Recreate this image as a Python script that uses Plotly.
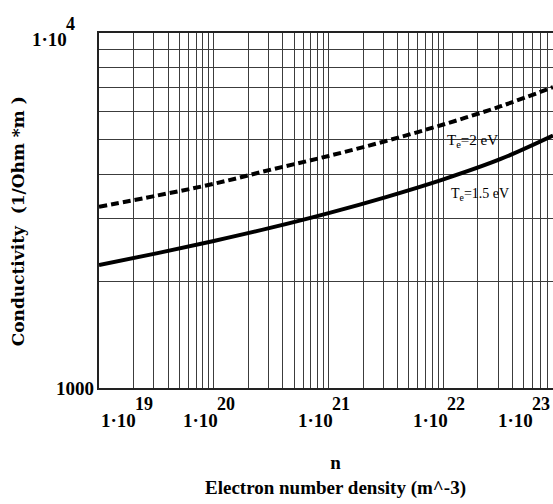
import numpy as np
import plotly.graph_objects as go

# Data (log-log)
n_density = [1e19, 10**19.5, 1e20, 10**20.5, 1e21, 10**21.5, 1e22, 10**22.5, 10**22.955]
sigma_te15 = [2219, 2394, 2595, 2829, 3109, 3450, 3870, 4418, 5142]
sigma_te2 = [3241, 3481, 3760, 4123, 4505, 4963, 5524, 6219, 7037]

x_tick_vals = [1e19, 1e20, 1e21, 1e22, 1e23]
x_tick_exps = ["19", "20", "21", "22", "23"]
y_tick_vals = [1000, 10000]

series_labels = ["T<sub>e</sub>=2 eV", "T<sub>e</sub>=1.5 eV"]

x_title = "n<br>Electron number density (m^-3)"
y_title = "Conductivity  (1/Ohm *m )"

SERIF = "Liberation Serif"
BASE_W = 33   # approx pixel width of "1·10" at base font
EXP_W = 18    # approx pixel width of two-digit exponent
EXP_GAP = 3   # compensation for annotation box offset

fig = go.Figure()
fig.add_trace(go.Scatter(x=n_density, y=sigma_te2, mode="lines",
                         line=dict(color="black", width=4, dash="8px,4px", shape="spline"),
                         showlegend=False, hoverinfo="skip"))
fig.add_trace(go.Scatter(x=n_density, y=sigma_te15, mode="lines",
                         line=dict(color="black", width=4, shape="spline"),
                         showlegend=False, hoverinfo="skip"))

fig.update_layout(
    width=553, height=504,
    margin=dict(l=99, r=0, t=33, b=116),
    paper_bgcolor="white", plot_bgcolor="white",
    xaxis=dict(type="log", range=[19, 22.955], dtick="D1", showticklabels=False,
               showgrid=True, gridcolor="#3c3c3c", gridwidth=1,
               showline=True, linecolor="#222", linewidth=1.5, mirror=True,
               ticks="", zeroline=False),
    yaxis=dict(type="log", range=[3, 4], dtick="D1", showticklabels=False,
               showgrid=True, gridcolor="#3c3c3c", gridwidth=1,
               showline=True, linecolor="#222", linewidth=1.5, mirror=False,
               ticks="", zeroline=False),
)

# white label boxes (between gridlines and traces)
fig.add_shape(type="rect", xref="paper", yref="paper", x0=0.762, x1=0.891, y0=0.645, y1=0.72,
              fillcolor="white", line_width=0, layer="between")
fig.add_shape(type="rect", xref="paper", yref="paper", x0=0.762, x1=0.918, y0=0.47, y1=0.645,
              fillcolor="white", line_width=0, layer="between")

base_font = dict(family=SERIF, size=19, color="black", weight="bold")
exp_font = dict(family=SERIF, size=18, color="black", weight="bold")


def add_pow(x, xref, y, yref, exp, split_shift, base_dy, exp_dy):
    # base "1·10" right-aligned at split point; exponent left-aligned there
    fig.add_annotation(x=x, xref=xref, y=y, yref=yref, text="1·10", showarrow=False,
                       xanchor="right", yanchor="middle", xshift=split_shift, yshift=base_dy,
                       font=base_font, borderpad=0)
    fig.add_annotation(x=x, xref=xref, y=y, yref=yref, text=exp, showarrow=False,
                       xanchor="left", yanchor="middle", xshift=split_shift - EXP_GAP,
                       yshift=exp_dy, font=exp_font, borderpad=0)


# x tick labels
for i, (v, e) in enumerate(zip(x_tick_vals, x_tick_exps)):
    if i == 0:
        add_pow(np.log10(v), "x", 0, "paper", e, 5 + BASE_W, -32, -16)
    elif i == len(x_tick_vals) - 1:
        add_pow(1, "paper", 0, "paper", e, -1 - EXP_W, -32, -16)
    else:
        add_pow(np.log10(v), "x", 0, "paper", e, -2 - (BASE_W + EXP_W) / 2 + BASE_W, -32, -16)

# y tick labels
fig.add_annotation(x=0, xref="paper", y=np.log10(y_tick_vals[0]), yref="y", text="1000",
                   showarrow=False, xanchor="right", yanchor="middle", xshift=-3,
                   font=base_font)
add_pow(0, "paper", np.log10(y_tick_vals[1]), "y", "4", -31, -6, 9)

# axis titles
fig.add_annotation(x=0.52, xref="paper", y=0, yref="paper", text=x_title,
                   showarrow=False, xanchor="center", yanchor="top", yshift=-62,
                   font=dict(family=SERIF, size=19, color="black", weight="bold"))
fig.add_annotation(x=-0.178, xref="paper", y=0.47, yref="paper", text=y_title,
                   showarrow=False, textangle=-90, xanchor="center", yanchor="middle",
                   font=dict(family="DejaVu Serif", size=17, color="black", weight="bold"))

# series labels
fig.add_annotation(x=0.762, xref="paper", y=0.695, yref="paper", text=series_labels[0],
                   showarrow=False, xanchor="left", yanchor="middle",
                   font=dict(family=SERIF, size=15, color="black"))
fig.add_annotation(x=0.772, xref="paper", y=0.545, yref="paper", text=series_labels[1],
                   showarrow=False, xanchor="left", yanchor="middle",
                   font=dict(family=SERIF, size=14, color="black"))

fig.write_html("out.html", config={"displayModeBar": False},
               post_script="document.body.style.margin='0';")
